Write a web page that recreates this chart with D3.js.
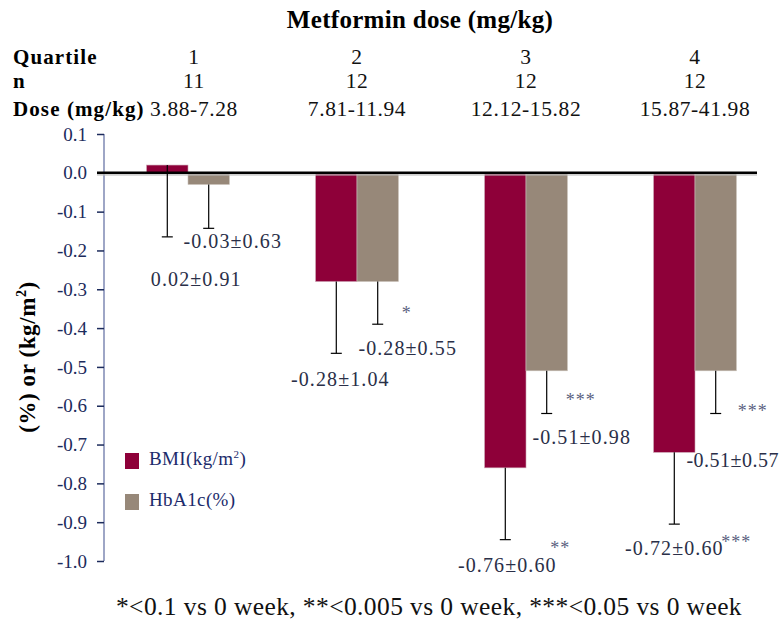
<!DOCTYPE html>
<html><head><meta charset="utf-8">
<script src="https://cdn.jsdelivr.net/npm/d3@7"></script>
<style>
body{margin:0;background:#fff;}
svg text{font-family:'Liberation Serif','DejaVu Serif',serif;}
</style></head>
<body><svg id="c" width="784" height="623" font-family="Liberation Serif"></svg>
<script>
// ---- data ----
const quartiles = ["1","2","3","4"];
const nValues = ["11","12","12","12"];
const doseRanges = ["3.88-7.28","7.81-11.94","12.12-15.82","15.87-41.98"];
const seriesNames = ["BMI(kg/m²)","HbA1c(%)"];
const bmiMean = [0.02,-0.28,-0.76,-0.72];
const bmiSD = [0.91,1.04,0.60,0.60];
const bmiErrEnd = [-0.165,-0.465,-0.945,-0.905];
const hbMean = [-0.03,-0.28,-0.51,-0.51];
const hbSD = [0.63,0.55,0.98,0.57];
const hbErrEnd = [-0.143,-0.39,-0.62,-0.62];
const bmiSig = ["","","**","***"];
const hbSig = ["","*","***","***"];
const yTicks = [0.1,0.0,-0.1,-0.2,-0.3,-0.4,-0.5,-0.6,-0.7,-0.8,-0.9,-1.0];

// ---- layout (label offsets from bar centre / error cap, px) ----
const bmiLabelOff = [[29,42],[4,26],[2,25],[0,24]];
const hbLabelOff  = [[24,13],[30,24],[35,24],[17,47]];
const bmiSigPos = [null,null,[55,7],[62,17]];
const hbSigPos  = [null,[29,-12],[34,-14],[37,-3]];

const FF = "'Liberation Serif','DejaVu Serif',serif";
const colors = ["#8e0039","#978879"];
const svg = d3.select("#c");

const x = d3.scaleBand().domain(quartiles).range([103.5,779.5]).paddingInner(0.51).paddingOuter(0.255);
const xs = d3.scaleBand().domain(seriesNames).range([0,x.bandwidth()]);
const y = d3.scaleLinear().domain([-1.0,0.1]).range([561,134]);

// Title and header rows
svg.append("text").attr("x",420).attr("y",28).attr("text-anchor","middle")
  .attr("font-size",25).attr("letter-spacing",0.3).attr("font-weight","bold").text("Metformin dose (mg/kg)");
const rows = [["Quartile",quartiles,64],["n",nValues,88],["Dose (mg/kg)",doseRanges,116]];
rows.forEach(([lab,vals,yy])=>{
  svg.append("text").attr("x",13).attr("y",yy).attr("font-size",21).attr("letter-spacing",1.1).attr("font-weight","bold").text(lab);
  svg.selectAll(null).data(vals).enter().append("text")
    .attr("x",(d,i)=>x(quartiles[i])+x.bandwidth()/2 + (i===0?6:0))
    .attr("y",yy).attr("text-anchor","middle").attr("font-size",21.5).attr("letter-spacing",0.6).attr("fill","#111").text(d=>d);
});

// Y axis
const axis = svg.append("g").attr("transform","translate(104,0)")
  .call(d3.axisLeft(y).tickValues(yTicks).tickFormat(d3.format(".1f")).tickSize(7).tickPadding(10));
axis.attr("font-family",FF);
axis.select(".domain").attr("stroke","#9ea6c6").attr("stroke-width",2).attr("d","M0,134V561");
axis.selectAll(".tick line").attr("stroke","#1c2b5c").attr("stroke-width",1.5);
axis.selectAll(".tick text").attr("font-size",19).attr("fill","#1c2b5c")
  .text(d=>d3.format(".1f")(d).replace("−","-"));

svg.append("text").attr("transform","translate(35,357) rotate(-90)").attr("text-anchor","middle")
  .attr("font-size",23).attr("letter-spacing",0.6).attr("font-weight","bold")
  .html('(%) or (kg/m<tspan dy="-9" font-size="14">2</tspan><tspan dy="9">)</tspan>');

// Bars
const all = [bmiMean,hbMean];
const ends = [bmiErrEnd,hbErrEnd];
const sds = [bmiSD,hbSD];
const g = svg.append("g");
all.forEach((arr,s)=>{
  g.selectAll(null).data(arr).enter().append("rect")
    .attr("x",(d,i)=>x(quartiles[i])+xs(seriesNames[s]))
    .attr("width",xs.bandwidth())
    .attr("y",d=>y(Math.max(0,d)))
    .attr("height",d=>Math.abs(y(d)-y(0)))
    .attr("fill",colors[s]).attr("stroke",s===0?"#c9a0b0":"#c8c0b8").attr("stroke-width",0.6);
});

// Zero line with shadow
svg.append("line").attr("x1",97).attr("x2",757).attr("y1",y(0)+2).attr("y2",y(0)+2)
  .attr("stroke","#bbb").attr("stroke-width",2).attr("opacity",0.7);
svg.append("line").attr("x1",97).attr("x2",757).attr("y1",y(0)).attr("y2",y(0))
  .attr("stroke","#000").attr("stroke-width",2.5);

// Error bars + labels
const labOffs = [bmiLabelOff,hbLabelOff];
const sigs = [bmiSig,hbSig];
const sigPos = [bmiSigPos,hbSigPos];
all.forEach((arr,s)=>{
  arr.forEach((v,i)=>{
    const cx = x(quartiles[i])+xs(seriesNames[s])+xs.bandwidth()/2;
    const y0 = y(v), y1 = y(ends[s][i]);
    svg.append("line").attr("x1",cx).attr("x2",cx).attr("y1",y0).attr("y2",y1).attr("stroke","#000").attr("stroke-width",1.2);
    svg.append("line").attr("x1",cx-5.5).attr("x2",cx+5.5).attr("y1",y1).attr("y2",y1).attr("stroke","#000").attr("stroke-width",1.2);
    const o = labOffs[s][i];
    const mean = v.toFixed(2), sd = sds[s][i].toFixed(2);
    svg.append("text").attr("x",cx+o[0]).attr("y",y1+o[1]+7).attr("text-anchor","middle")
      .attr("font-size",20).attr("letter-spacing",(s===1&&i===3)?0.5:1.1).attr("fill","#2a2f48")
      .text(mean+"±"+sd);
    if(sigs[s][i]){
      const p = sigPos[s][i];
      svg.append("text").attr("x",cx+p[0]).attr("y",y1+p[1]+7).attr("text-anchor","middle")
        .attr("font-size",18).attr("letter-spacing",1).attr("fill","#5a5f80").text(sigs[s][i]);
    }
  });
});

// Legend
seriesNames.forEach((n,i)=>{
  const ly = 453 + i*41;
  svg.append("rect").attr("x",125).attr("y",ly).attr("width",14).attr("height",16).attr("fill",colors[i]);
  const t = svg.append("text").attr("x",149).attr("y",ly+12).attr("font-size",19).attr("letter-spacing",0.4).attr("fill","#1c2b6b");
  if(i===0){ t.html('BMI(kg/m<tspan dy="-7" font-size="11">2</tspan><tspan dy="7">)</tspan>'); }
  else t.text(n);
});

// Footnote
svg.append("text").attr("x",429).attr("y",615).attr("text-anchor","middle").attr("font-size",25.5).attr("letter-spacing",0.4).attr("fill","#111")
  .text("*<0.1 vs 0 week, **<0.005 vs 0 week, ***<0.05 vs 0 week");
</script></body></html>
